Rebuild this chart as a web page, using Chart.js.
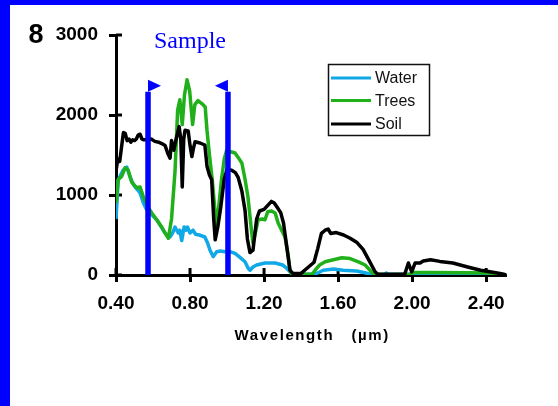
<!DOCTYPE html>
<html>
<head>
<meta charset="utf-8">
<script src="https://cdn.jsdelivr.net/npm/chart.js@4.4.1/dist/chart.umd.min.js"></script>
<style>
  html, body { margin: 0; padding: 0; background: #fff; }
  #wrap { position: relative; width: 558px; height: 406px; overflow: hidden; }
  #frame {
    position: absolute; left: 0; top: 0; width: 558px; height: 406px;
    box-sizing: border-box;
    border-left: 10px solid #0000ff; border-top: 5px solid #0000ff;
    pointer-events: none;
  }
</style>
</head>
<body>
<div id="wrap">
  <canvas id="spectra" width="558" height="406"></canvas>
  <div id="frame"></div>
</div>
<script>
// reflectance spectra, wavelength in um
const soilWl = [0.400, 0.410, 0.420, 0.430, 0.440, 0.450, 0.460, 0.470, 0.480, 0.490, 0.500, 0.510, 0.520, 0.530,
  0.540, 0.550, 0.570, 0.590, 0.610, 0.630, 0.650, 0.665, 0.680, 0.692, 0.700, 0.712, 0.724, 0.741, 0.750, 0.758,
  0.766, 0.773, 0.790, 0.800, 0.810, 0.818, 0.827, 0.854, 0.880, 0.892, 0.905, 0.917, 0.928, 0.936, 0.950, 0.965,
  0.985, 1.000, 1.025, 1.045, 1.060, 1.080, 1.097, 1.110, 1.124, 1.140, 1.160, 1.175, 1.200, 1.220, 1.240, 1.255,
  1.270, 1.290, 1.305, 1.320, 1.340, 1.355, 1.400, 1.440, 1.470, 1.490, 1.510, 1.530, 1.546, 1.560, 1.590, 1.630,
  1.665, 1.700, 1.735, 1.770, 1.800, 1.815, 1.960, 1.980, 1.998, 2.016, 2.043, 2.060, 2.100, 2.150, 2.220, 2.300,
  2.370, 2.420, 2.475, 2.510];
const soilVal = [1300, 1450, 1420, 1600, 1780, 1770, 1680, 1700, 1660, 1690, 1680, 1700, 1750, 1760,
  1700, 1690, 1690, 1700, 1670, 1660, 1640, 1620, 1520, 1460, 1680, 1560, 1690, 1855, 1700, 1100,
  1700, 1810, 1800, 1620, 1480, 1580, 1665, 1650, 1625, 1355, 1250, 1190, 700, 440, 600, 830,
  1200, 1320, 1310, 1280, 1220, 1050, 810, 450, 280, 310, 700, 800, 820, 870, 920, 900,
  850, 780, 650, 400, 60, 20, 20, 100, 160, 330, 520, 560, 575, 520, 530, 500,
  460, 410, 320, 170, 40, 10, 10, 150, 40, 150, 150, 175, 190, 170, 150, 100,
  60, 40, 20, 0];

const treesWl = [0.400, 0.412, 0.430, 0.449, 0.466, 0.485, 0.500, 0.512, 0.530, 0.548, 0.570, 0.593, 0.620, 0.647,
  0.665, 0.683, 0.700, 0.719, 0.733, 0.745, 0.758, 0.770, 0.784, 0.798, 0.814, 0.826, 0.843, 0.865, 0.882, 0.892,
  0.905, 0.920, 0.935, 0.944, 0.955, 0.970, 0.985, 0.998, 1.020, 1.043, 1.060, 1.080, 1.097, 1.113, 1.130, 1.140,
  1.155, 1.168, 1.190, 1.205, 1.220, 1.240, 1.260, 1.276, 1.295, 1.313, 1.330, 1.340, 1.350, 1.460, 1.476, 1.500,
  1.530, 1.575, 1.620, 1.665, 1.710, 1.746, 1.780, 1.800, 1.985, 2.000, 2.100, 2.300, 2.420, 2.480, 2.510];
const treesVal = [900, 1190, 1230, 1340, 1310, 1160, 1120, 1090, 1100, 975, 860, 775, 690, 600,
  525, 460, 700, 1300, 2060, 2190, 1880, 2250, 2440, 2300, 1880, 2130, 2180, 2140, 2100, 1800,
  1500, 1190, 800, 600, 850, 1190, 1450, 1560, 1540, 1525, 1470, 1400, 1200, 975, 600, 400,
  550, 690, 700, 690, 790, 800, 775, 650, 560, 475, 250, 60, 10, 10, 60, 125,
  165, 190, 215, 205, 165, 125, 40, 5, 5, 30, 30, 28, 25, 10, 0];

const waterWl = [0.400, 0.412, 0.425, 0.438, 0.458, 0.476, 0.490, 0.503, 0.530, 0.548, 0.565, 0.584, 0.620, 0.645,
  0.665, 0.692, 0.705, 0.719, 0.728, 0.737, 0.745, 0.755, 0.768, 0.778, 0.786, 0.800, 0.816, 0.830, 0.850, 0.880,
  0.895, 0.908, 0.925, 0.944, 0.965, 0.990, 1.020, 1.043, 1.070, 1.097, 1.115, 1.124, 1.140, 1.160, 1.205, 1.260,
  1.300, 1.320, 1.340, 1.360, 1.470, 1.490, 1.520, 1.575, 1.627, 1.700, 1.750, 1.780, 1.850, 1.860, 1.875, 2.000,
  2.500];
const waterVal = [700, 1190, 1250, 1310, 1350, 1225, 1150, 1100, 1025, 900, 820, 775, 690, 600,
  525, 475, 520, 600, 560, 525, 560, 430, 600, 560, 600, 525, 560, 510, 500, 475,
  400, 310, 230, 290, 300, 290, 290, 270, 220, 165, 80, 60, 100, 125, 150, 150,
  125, 90, 40, 10, 10, 25, 60, 75, 60, 50, 25, 5, 5, 25, 5, 10,
  5];

const xTicks = [0.4, 0.8, 1.2, 1.6, 2.0, 2.4];
const yTicks = [0, 1000, 2000, 3000];
const sampleBands = [0.573, 1.005];
const sampleTop = 2290;

const colors = { Water: "#10a8e6", Trees: "#20b01a", Soil: "#000000", Sample: "#0000ff" };

function pairs(wl, val) {
  return wl.map((w, i) => ({ x: w, y: val[i] }));
}

function spectrum(label, wl, val, order) {
  return {
    label: label,
    data: pairs(wl, val),
    borderColor: colors[label],
    borderWidth: 3.5,
    borderJoinStyle: "round",
    pointRadius: 0,
    tension: 0,
    order: order
  };
}

function bandLine(b) {
  return {
    label: "band " + b,
    data: [{ x: b, y: 0 }, { x: b, y: sampleTop }],
    borderColor: colors.Sample,
    borderWidth: 5.5,
    borderCapStyle: "butt",
    pointRadius: 0,
    order: 0
  };
}

const decor = {
  id: "decor",
  beforeDatasetsDraw(chart) {
    const { ctx, scales: { x, y } } = chart;
    // tick marks cross the axes, so add the inner halves
    ctx.save();
    ctx.strokeStyle = "#000";
    ctx.lineWidth = 3;
    ctx.beginPath();
    xTicks.forEach(v => {
      const px = x.getPixelForValue(v);
      ctx.moveTo(px, y.bottom);
      ctx.lineTo(px, y.bottom - 7);
    });
    yTicks.forEach(v => {
      const py = y.getPixelForValue(v);
      ctx.moveTo(x.left, py);
      ctx.lineTo(x.left + 6, py);
    });
    ctx.stroke();
    ctx.restore();
  },
  afterDatasetsDraw(chart) {
    const { ctx, scales: { x, y } } = chart;
    ctx.save();
    // arrow heads on the sample bands
    const top = y.getPixelForValue(sampleTop);
    ctx.fillStyle = colors.Sample;
    sampleBands.forEach((b, i) => {
      const px = x.getPixelForValue(b);
      const dir = i === 0 ? 1 : -1;
      ctx.beginPath();
      ctx.moveTo(px, top - 12);
      ctx.lineTo(px, top);
      ctx.lineTo(px + dir * 13, top - 6);
      ctx.closePath();
      ctx.fill();
    });
    const mid = (x.getPixelForValue(sampleBands[0]) + x.getPixelForValue(sampleBands[1])) / 2;
    ctx.font = '24px "Liberation Serif", "Times New Roman", serif';
    ctx.textAlign = "center";
    ctx.textBaseline = "alphabetic";
    ctx.fillText("Sample", mid + 2, 48);

    // legend box
    const entries = ["Water", "Trees", "Soil"];
    const rows = [78, 100.5, 124];
    ctx.strokeStyle = "#111";
    ctx.lineWidth = 1.5;
    ctx.strokeRect(328.5, 64.5, 101, 71);
    ctx.font = '16px "Liberation Sans", Arial, sans-serif';
    ctx.textAlign = "left";
    ctx.textBaseline = "middle";
    entries.forEach((name, i) => {
      ctx.strokeStyle = colors[name];
      ctx.lineWidth = 3;
      ctx.beginPath();
      ctx.moveTo(331, rows[i]);
      ctx.lineTo(371, rows[i]);
      ctx.stroke();
      ctx.fillStyle = "#111";
      ctx.fillText(name, 375, rows[i] + 1);
    });

    // axis title
    ctx.fillStyle = "#000";
    ctx.font = 'bold 15px "Liberation Sans", Arial, sans-serif';
    ctx.letterSpacing = "1.6px";
    ctx.textAlign = "center";
    ctx.textBaseline = "alphabetic";
    ctx.fillText("Wavelength   (\u00b5m)", (x.left + x.right) / 2 + 1, 339.5);
    ctx.letterSpacing = "0px";

    // stray glyph next to the top tick
    ctx.font = 'bold 27px "Liberation Sans", Arial, sans-serif';
    ctx.textAlign = "left";
    ctx.fillText("8", 28.5, 43);
    ctx.restore();
  }
};

new Chart(document.getElementById("spectra"), {
  type: "line",
  data: {
    datasets: [
      bandLine(sampleBands[0]),
      bandLine(sampleBands[1]),
      spectrum("Soil", soilWl, soilVal, 1),
      spectrum("Trees", treesWl, treesVal, 2),
      spectrum("Water", waterWl, waterVal, 3)
    ]
  },
  options: {
    responsive: false,
    animation: false,
    devicePixelRatio: 1,
    layout: { padding: { left: 0, top: 35, right: 51.5, bottom: 0 } },
    plugins: { legend: { display: false }, tooltip: { enabled: false } },
    scales: {
      x: {
        type: "linear",
        min: 0.4,
        max: 2.51,
        afterBuildTicks: s => { s.ticks = xTicks.map(v => ({ value: v })); },
        afterFit: s => { s.height = 131; },
        border: { color: "#000", width: 3 },
        grid: { drawOnChartArea: false, tickLength: 7, tickColor: "#000", tickWidth: 3 },
        ticks: {
          color: "#000",
          padding: 10,
          maxRotation: 0,
          autoSkip: false,
          font: { family: '"Liberation Sans", Arial, sans-serif', size: 19, weight: "bold" },
          callback: v => Number(v).toFixed(2)
        }
      },
      y: {
        min: 0,
        max: 3000,
        afterBuildTicks: s => { s.ticks = yTicks.map(v => ({ value: v })); },
        afterFit: s => { s.width = 116; },
        border: { color: "#000", width: 3 },
        grid: { drawOnChartArea: false, tickLength: 7, tickColor: "#000", tickWidth: 3 },
        ticks: {
          color: "#000",
          padding: 11,
          font: { family: '"Liberation Sans", Arial, sans-serif', size: 19, weight: "bold" },
          callback: v => String(v)
        }
      }
    }
  },
  plugins: [decor]
});
</script>
</body>
</html>
